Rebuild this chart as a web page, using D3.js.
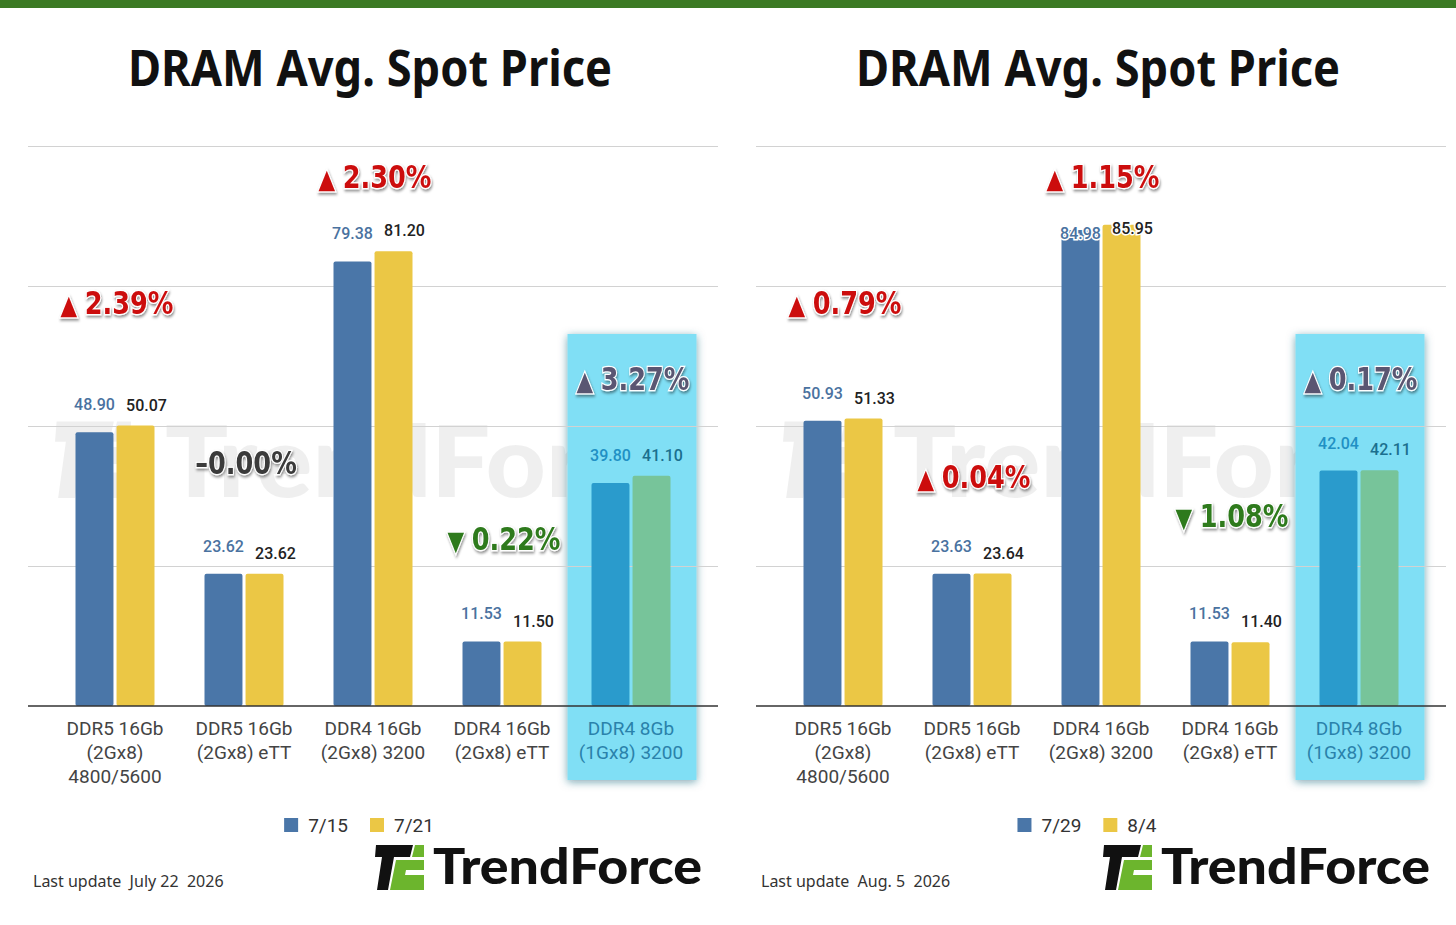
<!DOCTYPE html>
<html>
<head>
<meta charset="utf-8">
<script src="https://cdn.jsdelivr.net/npm/d3@7"></script>
<style>
body { margin: 0; background: #fff; }
svg { display: block; font-family: Roboto, sans-serif; }
</style>
</head>
<body>
<svg id="chart" width="1456" height="925"></svg>
<script>
var categories = [
    ["DDR5 16Gb", "(2Gx8)", "4800/5600"],
    ["DDR5 16Gb", "(2Gx8) eTT"],
    ["DDR4 16Gb", "(2Gx8) 3200"],
    ["DDR4 16Gb", "(2Gx8) eTT"],
    ["DDR4 8Gb", "(1Gx8) 3200"]
];
var yTicks = [0, 25, 50, 75, 100];
var title = "DRAM Avg. Spot Price";

var leftDates = ["7/15", "7/21"];
var leftPrev = [48.90, 23.62, 79.38, 11.53, 39.80];
var leftCurr = [50.07, 23.62, 81.20, 11.50, 41.10];
var leftChange = ["▲2.39%", "–0.00%", "▲2.30%", "▼0.22%", "▲3.27%"];
var leftUpdate = "Last update  July 22  2026";

var rightDates = ["7/29", "8/4"];
var rightPrev = [50.93, 23.63, 84.98, 11.53, 42.04];
var rightCurr = [51.33, 23.64, 85.95, 11.40, 42.11];
var rightChange = ["▲0.79%", "▲0.04%", "▲1.15%", "▼1.08%", "▲0.17%"];
var rightUpdate = "Last update  Aug. 5  2026";

// height (in price units) where each change badge sits
var leftBadgeLevel = [72, 43.5, 94.5, 30, 58.5];
var rightBadgeLevel = [72, 41, 94.5, 34, 58.5];

var chart = d3.select("#chart");
var defs = chart.append("defs");
defs.append("filter").attr("id", "shadow")
    .attr("x", "-20%").attr("y", "-40%").attr("width", "140%").attr("height", "180%")
    .append("feDropShadow")
    .attr("dx", 1).attr("dy", 2).attr("stdDeviation", 1.5)
    .attr("flood-color", "#000").attr("flood-opacity", 0.45);
defs.append("filter").attr("id", "boxshadow")
    .attr("x", "-20%").attr("y", "-10%").attr("width", "140%").attr("height", "120%")
    .append("feDropShadow")
    .attr("dx", 0).attr("dy", 2).attr("stdDeviation", 4)
    .attr("flood-color", "#0a5f75").attr("flood-opacity", 0.55);

chart.append("rect").attr("width", 1456).attr("height", 8).attr("fill", "#3c7a24");

function drawIcon(g, fillBlack, fillGreen) {
    g.append("path").attr("d", "M1,2 L38,2 L35,14 L19,14 L13,47 L2,47 L7,14 L0,14 Z").attr("fill", fillBlack);
    g.append("path").attr("d", "M40,2 L49,2 L49,14 L37,14 Z").attr("fill", fillGreen);
    g.append("path").attr("d", "M21,17 L49,17 L49,27 L31,27 L30,32 L49,32 L49,47 L15,47 Z").attr("fill", fillGreen);
}

function drawPanel(px, prev, curr, dates, change, level, update) {
    var g = chart.append("g").attr("transform", "translate(" + px + ",0)");
    var n = categories.length;
    var hi = n - 1;
    var x = d3.scaleBand().domain(d3.range(n)).range([50.5, 695.5]);
    var x1 = d3.scaleBand().domain([0, 1]).range([0, 79]).paddingInner(0.075);
    var y = d3.scaleLinear().domain([0, 100]).range([706, 146]);
    var gx = function(i) { return x(i) + (x.bandwidth() - 79) / 2; };

    g.append("text")
        .attr("x", 370).attr("y", 86)
        .attr("text-anchor", "middle")
        .attr("font-size", 50).attr("font-weight", 700)
        .attr("font-family", "'Noto Sans', sans-serif")
        .attr("textLength", 484).attr("lengthAdjust", "spacingAndGlyphs")
        .attr("fill", "#111")
        .text(title);

    // watermark
    var wm = g.append("g").attr("opacity", 0.06);
    drawIcon(wm.append("g").attr("transform", "translate(55,418) scale(1.55,1.7)"), "#000", "#000");
    wm.append("text")
        .attr("x", 165).attr("y", 497)
        .attr("font-size", 100).attr("font-weight", 900)
        .attr("font-family", "Lato, sans-serif")
        .attr("textLength", 525).attr("lengthAdjust", "spacingAndGlyphs")
        .attr("fill", "#000")
        .text("TrendForce");

    // highlighted category box
    g.append("rect")
        .attr("x", x(hi) + 1).attr("y", 334)
        .attr("width", x.bandwidth()).attr("height", 446)
        .attr("fill", "#80dff5")
        .attr("filter", "url(#boxshadow)");

    var grid = g.append("g")
        .attr("transform", "translate(28,0)")
        .call(d3.axisLeft(y).tickValues(yTicks.slice(1)).tickSize(-690).tickFormat(""));
    grid.select(".domain").remove();
    grid.selectAll("line").attr("stroke", "#d2d2d2").attr("stroke-width", 1);

    var normal = ["#4a76a8", "#ebc745"];
    var bright = ["#2a9bcc", "#77c49a"];
    var series = [prev, curr];

    series.forEach(function(vals, s) {
        g.append("g").selectAll("rect")
            .data(vals)
            .enter().append("rect")
            .attr("x", function(d, i) { return gx(i) + x1(s); })
            .attr("y", function(d) { return y(d); })
            .attr("width", x1.bandwidth())
            .attr("height", function(d) { return y(0) - y(d); })
            .attr("rx", 2)
            .attr("fill", function(d, i) { return i === hi ? bright[s] : normal[s]; });
    });

    // value labels, kept below the top badge row
    var labelCol = [["#4a72a0", "#222"], ["#2190c4", "#1b6f8e"]];
    var lift = [22, 15], floor = [239, 234];
    series.forEach(function(vals, s) {
        g.append("g").selectAll("text")
            .data(vals)
            .enter().append("text")
            .attr("x", function(d, i) { return gx(i) + x1(s) + x1.bandwidth() / 2 + (s ? 11 : 0); })
            .attr("y", function(d) { return Math.max(y(d) - lift[s], floor[s]); })
            .attr("text-anchor", "middle")
            .attr("font-size", 16).attr("font-weight", 500)
            .attr("stroke", function(d) { return y(d) - lift[s] < floor[s] ? "#fff" : "none"; })
            .attr("stroke-width", 3).attr("paint-order", "stroke")
            .attr("fill", function(d, i) { return labelCol[i === hi ? 1 : 0][s]; })
            .text(function(d) { return d.toFixed(2); });
    });

    g.append("line")
        .attr("x1", 28).attr("x2", 718)
        .attr("y1", y(0)).attr("y2", y(0))
        .attr("stroke", "#333").attr("stroke-width", 1.5);

    // category labels
    var cat = g.append("g").selectAll("text")
        .data(categories)
        .enter().append("text")
        .attr("text-anchor", "middle")
        .attr("font-size", 19)
        .attr("fill", function(d, i) { return i === hi ? "#2a82ab" : "#444"; });
    cat.each(function(lines, i) {
        d3.select(this).selectAll("tspan")
            .data(lines)
            .enter().append("tspan")
            .attr("x", x(i) + x.bandwidth() / 2)
            .attr("y", function(d, k) { return 735 + k * 24; })
            .text(function(d) { return d; });
    });

    // change badges
    change.forEach(function(t, i) {
        var col = i === hi ? "#5a5672" : t[0] === "▲" ? "#cc1111" : t[0] === "▼" ? "#2d7a1c" : "#3a3a3a";
        var b = g.append("g")
            .attr("transform", "translate(" + (x(i) + x.bandwidth() / 2 + 2) + "," + y(level[i]) + ") scale(0.8,1)")
            .attr("filter", "url(#shadow)");
        var txt = b.append("text")
            .attr("text-anchor", "middle")
            .attr("dy", "0.36em")
            .attr("font-size", 32).attr("font-weight", 700)
            .attr("font-family", "'DejaVu Sans', sans-serif")
            .attr("fill", col)
            .attr("stroke", "#fff").attr("stroke-width", 2.5).attr("paint-order", "stroke");
        if (t[0] === "–") {
            txt.text(t);
        } else {
            txt.append("tspan").attr("font-size", 27).text(t[0] + " ");
            txt.append("tspan").text(t.slice(1));
        }
    });

    // legend
    var leg = g.append("g").attr("transform", "translate(0,825)");
    var items = leg.selectAll("g").data(dates).enter().append("g");
    items.append("rect").attr("y", -7).attr("width", 14).attr("height", 14)
        .attr("fill", function(d, s) { return normal[s]; });
    items.append("text").attr("x", 24).attr("dy", "0.35em")
        .attr("font-size", 19).attr("fill", "#333")
        .text(function(d) { return d; });
    var pos = 0, offs = [];
    items.each(function() {
        offs.push(pos);
        pos += 24 + this.querySelector("text").getComputedTextLength() + 22;
    });
    var total = pos - 22;
    items.attr("transform", function(d, s) { return "translate(" + (359 - total / 2 + offs[s]) + ",0)"; });

    g.append("text")
        .attr("x", 33).attr("y", 887)
        .attr("font-size", 16).attr("fill", "#333")
        .attr("font-family", "'Noto Sans', sans-serif")
        .style("white-space", "pre")
        .text(update);

    var logo = g.append("g").attr("transform", "translate(375,843)");
    drawIcon(logo, "#111", "#6cb52d");
    g.append("text")
        .attr("x", 433).attr("y", 884)
        .attr("font-size", 50).attr("font-weight", 900)
        .attr("font-family", "Lato, sans-serif")
        .attr("textLength", 269).attr("lengthAdjust", "spacingAndGlyphs")
        .attr("fill", "#111")
        .text("TrendForce");
}

drawPanel(0, leftPrev, leftCurr, leftDates, leftChange, leftBadgeLevel, leftUpdate);
drawPanel(728, rightPrev, rightCurr, rightDates, rightChange, rightBadgeLevel, rightUpdate);
</script>
</body>
</html>
